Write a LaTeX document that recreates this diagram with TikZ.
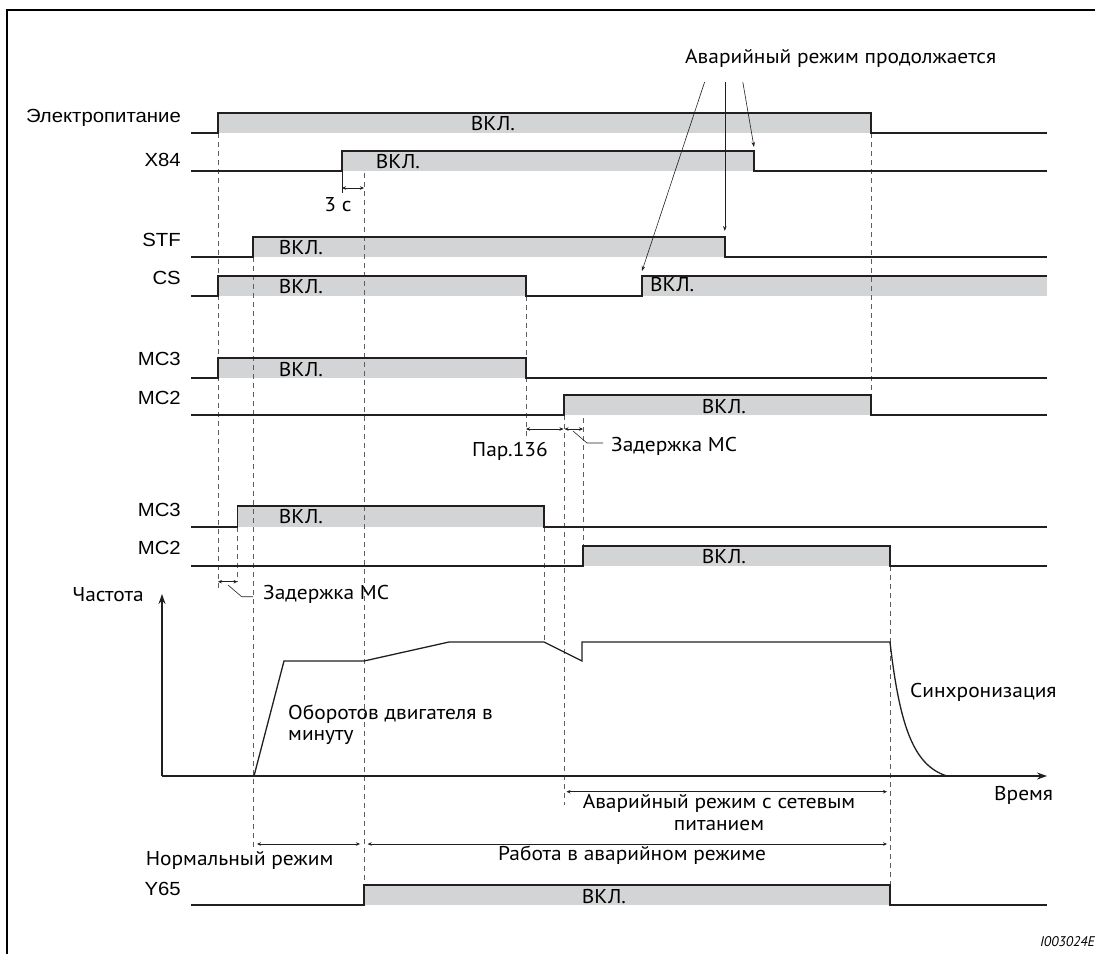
\documentclass[tikz,border=0pt]{standalone}
\usepackage{fontspec}
\setmainfont{PT Sans}[FakeStretch=1.07]
\newfontfamily\lblfont{Liberation Sans}[FakeStretch=1.07]
\newfontfamily\idfont{PT Sans}
\usetikzlibrary{arrows.meta}
\definecolor{barfill}{RGB}{211,212,214}
\definecolor{ink}{RGB}{35,31,32}
\definecolor{dashc}{RGB}{95,95,95}
\begin{document}
\begin{tikzpicture}[x=1pt,y=-1pt,
  sigline/.style={ink, line width=1.4pt, line join=miter},
  bar/.style={fill=barfill, draw=none},
  guide/.style={dashc, line width=0.9pt, dash pattern=on 5pt off 4pt},
  dim/.style={ink, line width=0.6pt, {Stealth[length=4pt,width=3.5pt]}-{Stealth[length=4pt,width=3.5pt]}},
  lead/.style={ink, line width=0.6pt},
  callout/.style={ink, line width=0.6pt, -{Stealth[length=5pt,width=3.5pt]}},
  axis/.style={ink, line width=1.3pt, -{Stealth[length=10pt,width=7pt]}},
  lbl/.style={font=\lblfont\fontsize{19}{21}\selectfont, anchor=base east, inner sep=0},
  txt/.style={font=\fontsize{20}{23}\selectfont, inner sep=0},
  on/.style={txt, anchor=base},
]
\useasboundingbox (0,0) rectangle (1095,954);
% frame
\draw[black, line width=2.4pt] (7,954) -- (7,10) -- (1095,10);

% ---------- fills ----------
\fill[bar] (218,113) rectangle (871,133);
\fill[bar] (342,151) rectangle (754,171);
\fill[bar] (253,237) rectangle (725,257);
\fill[bar] (218,276) rectangle (526,296);
\fill[bar] (642,276) rectangle (1047,296);
\fill[bar] (218,358) rectangle (526,378);
\fill[bar] (564,395) rectangle (871,415);
\fill[bar] (237.5,506) rectangle (544,527);
\fill[bar] (583,546) rectangle (890,566);
\fill[bar] (364,885) rectangle (890,905);

% ---------- guide lines ----------
\draw[guide] (218,133) -- (218,588);
\draw[guide] (237.5,527) -- (237.5,582);
\draw[guide] (253,257) -- (253,850);
\draw[guide] (364,173) -- (364,885);
\draw[guide] (526,296) -- (526,436);
\draw[guide] (544,527) -- (544,642);
\draw[guide] (564,415) -- (564,805);
\draw[guide] (583,418) -- (583,546);
\draw[guide] (871,133) -- (871,395);
\draw[guide] (890,566) -- (890,885);

% ---------- signal lines ----------
\draw[sigline] (191,133) -- (218,133) -- (218,113) -- (871,113) -- (871,133) -- (1047,133);
\draw[sigline] (191,171) -- (342,171) -- (342,151) -- (754,151) -- (754,171) -- (1047,171);
\draw[sigline] (191,257) -- (253,257) -- (253,237) -- (725,237) -- (725,257) -- (1047,257);
\draw[sigline] (191,296) -- (218,296) -- (218,276) -- (526,276) -- (526,296) -- (642,296) -- (642,276) -- (1047,276);
\draw[sigline] (191,378) -- (218,378) -- (218,358) -- (526,358) -- (526,378) -- (1047,378);
\draw[sigline] (191,415) -- (564,415) -- (564,395) -- (871,395) -- (871,415) -- (1047,415);
\draw[sigline] (191,527) -- (237.5,527) -- (237.5,506) -- (544,506) -- (544,527) -- (1047,527);
\draw[sigline] (191,566) -- (583,566) -- (583,546) -- (890,546) -- (890,566) -- (1047,566);
\draw[sigline] (191,905) -- (364,905) -- (364,885) -- (890,885) -- (890,905) -- (1047,905);

% ---------- signal labels ----------
\node[lbl] (lPow) at (181,122.7) {Электропитание};
\node[lbl] (lX84) at (181,166) {X84};
\node[lbl] (lSTF) at (181,246.7) {STF};
\node[lbl] (lCS)  at (181,284) {CS};
\node[lbl] (lMC3a) at (181,365.7) {MC3};
\node[lbl] (lMC2a) at (181,404.3) {MC2};
\node[lbl] (lMC3b) at (181,516) {MC3};
\node[lbl] (lMC2b) at (181,554) {MC2};
\node[lbl] (lY65) at (181,895) {Y65};

% ---------- ON texts ----------
\node[on] (onPow) at (493,130.5) {ВКЛ.};
\node[on] (onX84) at (398,168) {ВКЛ.};
\node[on] (onSTF) at (301,254.5) {ВКЛ.};
\node[on] (onCSa) at (301,293.5) {ВКЛ.};
\node[on, anchor=base west] (onCSb) at (650,291) {ВКЛ.};
\node[on] (onMC3a) at (301,376) {ВКЛ.};
\node[on] (onMC2a) at (724,413) {ВКЛ.};
\node[on] (onMC3b) at (301,523.5) {ВКЛ.};
\node[on] (onMC2b) at (724,563) {ВКЛ.};
\node[on] (onY65) at (604,903) {ВКЛ.};

% ---------- 3 s ----------
\coordinate (t3a) at (342,188);
\coordinate (t3b) at (364,188);
\draw[lead, line width=0.8pt] (342,171) -- (342,193);
\draw[dim] (t3a) -- (t3b);
\node[on] (t3) at (338,211.5) {3 с};

% ---------- Par.136 and MC delay (upper) ----------
\coordinate (p1) at (526,429);
\coordinate (p2) at (563.5,429);
\draw[dim] (p1) -- (p2);
\node[on] (par) at (510,456.5) {Пар.136};
\coordinate (d1) at (564.5,429);
\coordinate (d2) at (583,429);
\draw[dim] (d1) -- (d2);
\node[on, anchor=base west] (delU) at (611,451.5) {Задержка МС};
\draw[lead] (573,431) -- (587,443) -- (603,443);

% ---------- MC delay (lower) ----------
\coordinate (e1) at (218,581.7);
\coordinate (e2) at (237.5,581.7);
\draw[dim] (e1) -- (e2);
\node[on, anchor=base west] (delL) at (263,599.5) {Задержка МС};
\draw[lead] (228,585) -- (241.7,596.7) -- (253,596.7);

% ---------- frequency axes ----------
\coordinate (org) at (162,776);
\coordinate (ytip) at (162,594);
\coordinate (xtip) at (1047,776);
\draw[axis] (org) -- (ytip);
\draw[axis] (org) -- (xtip);
\node[on] (freq) at (108,601.5) {Частота};
\node[on, anchor=base west] (time) at (994,800.5) {Время};

% frequency curve
\draw[ink, line width=1.3pt, line join=miter] (254,776) -- (284,661) -- (364,661) -- (449,642) -- (544,642) -- (582,661) -- (582,642) -- (890,642)
   .. controls (900,730) and (915,766) .. (947,776);
\node[on, anchor=base west] (rpm1) at (288,719) {Оборотов двигателя в};
\node[on, anchor=base west] (rpm2) at (288,740.5) {минуту};
\node[on, anchor=base west] (sync) at (910,697) {Синхронизация};

% ---------- mode arrows ----------
\coordinate (n1) at (257,844);
\coordinate (n2) at (360,844);
\draw[dim] (n1) -- (n2);
\node[on, anchor=base west] (norm) at (145.6,865) {Нормальный режим};
\coordinate (w1) at (367.7,844);
\coordinate (w2) at (887,844);
\draw[dim] (w1) -- (w2);
\node[on, anchor=base west] (work) at (498,860) {Работа в аварийном режиме};
\coordinate (g1) at (566.5,791.7);
\coordinate (g2) at (887,791.7);
\draw[dim] (g1) -- (g2);
\node[on] (grid1) at (719,808) {Аварийный режим с сетевым};
\node[on] (grid2) at (719,830) {питанием};

% ---------- emergency continues ----------
\node[on, anchor=base west] (cont) at (685,63.3) {Аварийный режим продолжается};
\coordinate (c1s) at (704.6,82);
\coordinate (c1e) at (642,271);
\coordinate (c2s) at (724.8,82);
\coordinate (c2e) at (724.8,231);
\coordinate (c3s) at (742.8,82);
\coordinate (c3e) at (754,147);
\draw[callout] (c1s) -- (c1e);
\draw[callout] (c2s) -- (c2e);
\draw[callout] (c3s) -- (c3e);

% ---------- figure id ----------
\node[font=\idfont\fontsize{14}{16}\selectfont\itshape, anchor=base east, inner sep=0] (fid) at (1095,946) {I003024E};
\end{tikzpicture}
\end{document}
